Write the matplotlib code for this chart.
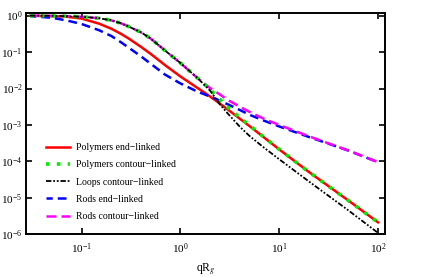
import matplotlib
matplotlib.use("Agg")
import matplotlib.pyplot as plt

# ------------------------------------------
# values (log-log)
# ------------------------------------------
q = [0.03, 0.05, 0.07, 0.1, 0.15, 0.2, 0.25, 0.3, 0.4, 0.5, 0.7, 1.0,
     1.5, 2.0, 2.5, 3.0, 4.0, 5.0, 7.0, 10.0, 20.0, 50.0, 100.0]

poly_end_exp = [0.005, 0.015, 0.03, 0.08, 0.22, 0.36, 0.50, 0.63, 0.86, 1.05, 1.36, 1.67,
                1.99, 2.22, 2.41, 2.57, 2.83, 3.03, 3.34, 3.67, 4.29, 5.07, 5.67]
poly_contour_exp = [0.0, 0.005, 0.015, 0.03, 0.07, 0.13, 0.21, 0.30, 0.46, 0.63, 0.96, 1.30,
                    1.72, 2.03, 2.29, 2.51, 2.80, 3.01, 3.33, 3.67, 4.29, 5.07, 5.67]
loops_contour_exp = [0.0, 0.005, 0.015, 0.03, 0.07, 0.13, 0.21, 0.30, 0.46, 0.63, 0.96, 1.30,
                     1.72, 2.06, 2.43, 2.68, 3.05, 3.30, 3.62, 3.94, 4.55, 5.34, 5.96]
rods_end_exp = [0.01, 0.06, 0.13, 0.23, 0.40, 0.56, 0.73, 0.88, 1.12, 1.32, 1.62, 1.86,
                2.09, 2.22, 2.33, 2.43, 2.59, 2.72, 2.88, 3.04, 3.33, 3.70, 4.02]
rods_contour_exp = [0.0, 0.005, 0.015, 0.03, 0.07, 0.13, 0.21, 0.30, 0.46, 0.63, 0.96, 1.30,
                    1.72, 1.99, 2.16, 2.31, 2.50, 2.64, 2.83, 3.00, 3.31, 3.70, 4.02]

labels = ["Polymers end\u2212linked", "Polymers contour\u2212linked",
          "Loops contour\u2212linked", "Rods end\u2212linked", "Rods contour\u2212linked"]


def to_intensity(exps):
    return [10.0 ** (-e) for e in exps]


plt.rcParams["font.family"] = ["Liberation Serif", "DejaVu Serif"]
plt.rcParams["mathtext.fontset"] = "stix"

fig = plt.figure(figsize=(4.45, 2.77), dpi=100)
ax = fig.add_axes([0.0584, 0.154, 0.807, 0.798])

h_red, = ax.plot(q, to_intensity(poly_end_exp), color="#FF0000", lw=1.8)
h_blue, = ax.plot(q, to_intensity(rods_end_exp), color="#0000FF", lw=1.8,
                  linestyle=(1, (3.5, 2)))
h_mag, = ax.plot(q, to_intensity(rods_contour_exp), color="#FF00FF", lw=1.8,
                 linestyle=(0, (4, 2)))
h_green, = ax.plot(q, to_intensity(poly_contour_exp), color="#00EE00", lw=2.6,
                   linestyle=(0, (1, 2.0)))
h_black, = ax.plot(q, to_intensity(loops_contour_exp), color="#000000", lw=1.3,
                   linestyle=(0, (3, 1, 1, 1, 1, 1)))

ax.set_xscale("log")
ax.set_yscale("log")
ax.set_xlim(0.0273, 118)
ax.set_ylim(1e-6, 1.16)
ax.minorticks_off()
ax.set_xticks([0.1, 1, 10, 100])
ax.set_yticks([1e-6, 1e-5, 1e-4, 1e-3, 1e-2, 1e-1, 1])
ax.tick_params(which="major", direction="in", length=4, width=1.2,
               top=True, right=True, labelsize=8)
ax.tick_params(axis="x", pad=5)
ax.tick_params(axis="y", pad=2.5)
for s in ax.spines.values():
    s.set_linewidth(1.4)

ax.set_xlabel(r"qR$_g$", fontsize=8.5, labelpad=4)

ax.legend([h_red, h_green, h_black, h_blue, h_mag], labels,
          loc="lower left", bbox_to_anchor=(0.057, 0.06), frameon=False,
          fontsize=7.0, handlelength=2.4, handletextpad=0.65,
          labelspacing=0.85, borderaxespad=0, borderpad=0)

fig.savefig("out.png", dpi=100)
